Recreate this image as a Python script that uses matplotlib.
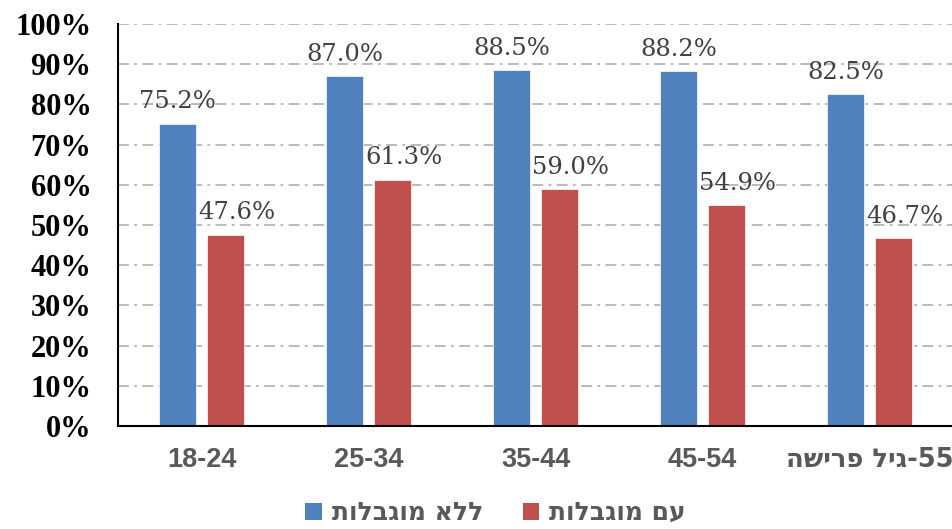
import re
import numpy as np
import matplotlib
matplotlib.use('agg')
import matplotlib.pyplot as plt
from matplotlib.patches import Patch

# data
categories = ['18-24', '25-34', '35-44', '45-54', '55-גיל פרישה']
without_disab = [75.2, 87.0, 88.5, 88.2, 82.5]
with_disab = [47.6, 61.3, 59.0, 54.9, 46.7]
series_names = ['ללא מוגבלות', 'עם מוגבלות']
y_ticks = [0, 10, 20, 30, 40, 50, 60, 70, 80, 90, 100]

BLUE = '#4F81BD'
RED = '#C0504D'


def visual(s):
    """ matplotlib has no bidi: flip Hebrew strings, keep digit runs LTR """
    if not re.search('[\u0590-\u05FF]', s):
        return s
    r = s[::-1]
    return re.sub(r'\d+', lambda m: m.group(0)[::-1], r)


fig = plt.figure(figsize=(9.53, 5.29), dpi=100)
ax = fig.add_axes((118/953, 103/529, 1 - 118/953, 402/529))

x = np.arange(len(categories))
w = 0.22
off = 0.144
b1 = ax.bar(x - off, without_disab, w, color=BLUE, edgecolor='white', linewidth=0.5, zorder=3)
b2 = ax.bar(x + off, with_disab, w, color=RED, edgecolor='white', linewidth=0.5, zorder=3)

# data labels
for xi, v in zip(x - off, without_disab):
    ax.annotate('{:.1f}%'.format(v), (xi, v), xytext=(0, 11), textcoords='offset points',
                ha='center', va='baseline', fontsize=17.5, family='DejaVu Serif',
                color='#404040')
for xi, v in zip(x + off, with_disab):
    ax.annotate('{:.1f}%'.format(v), (xi, v), xytext=(8, 11), textcoords='offset points',
                ha='center', va='baseline', fontsize=17.5, family='DejaVu Serif',
                color='#404040')

ax.set_xlim(-0.5, len(categories) - 0.5)
ax.set_ylim(0, 100)
ax.set_yticks(y_ticks)
ax.set_yticklabels(['{}%'.format(t) for t in y_ticks], family='Liberation Serif',
                   fontweight='bold', fontsize=22, color='black')
ax.set_xticks(x)
ax.set_xticklabels([visual(c) for c in categories], family='Liberation Sans',
                   fontweight='bold', fontsize=19.5, color='#595959')
# Hebrew label: DejaVu glyphs are closer in weight/width to the original
for t in ax.get_xticklabels():
    if re.search('[\u0590-\u05FF]', t.get_text()):
        t.set_fontfamily('DejaVu Sans')
        t.set_fontsize(18.5)
ax.tick_params(axis='y', length=0, pad=19)
ax.tick_params(axis='x', length=0, pad=15)

ax.grid(axis='y', color='#B4B4B4', linewidth=1.3, linestyle=(0, (6, 3, 1.5, 3)), zorder=0)
for s in ['top', 'right']:
    ax.spines[s].set_visible(False)
for s in ['left', 'bottom']:
    ax.spines[s].set_linewidth(1.5)
    ax.spines[s].set_color('black')
    ax.spines[s].set_zorder(4)

handles = [Patch(facecolor=BLUE), Patch(facecolor=RED)]
leg = fig.legend(handles, [visual(n) for n in series_names], loc='center',
                 bbox_to_anchor=(0.52, 16/529), ncol=2, frameon=False,
                 prop={'family': 'DejaVu Sans', 'weight': 'bold', 'size': 18},
                 handlelength=0.65, handleheight=0.65, handletextpad=0.4, columnspacing=1.6,
                 borderpad=0.1)
for t in leg.get_texts():
    t.set_color('#595959')

fig.savefig('out.png', dpi=100)
plt.close(fig)
